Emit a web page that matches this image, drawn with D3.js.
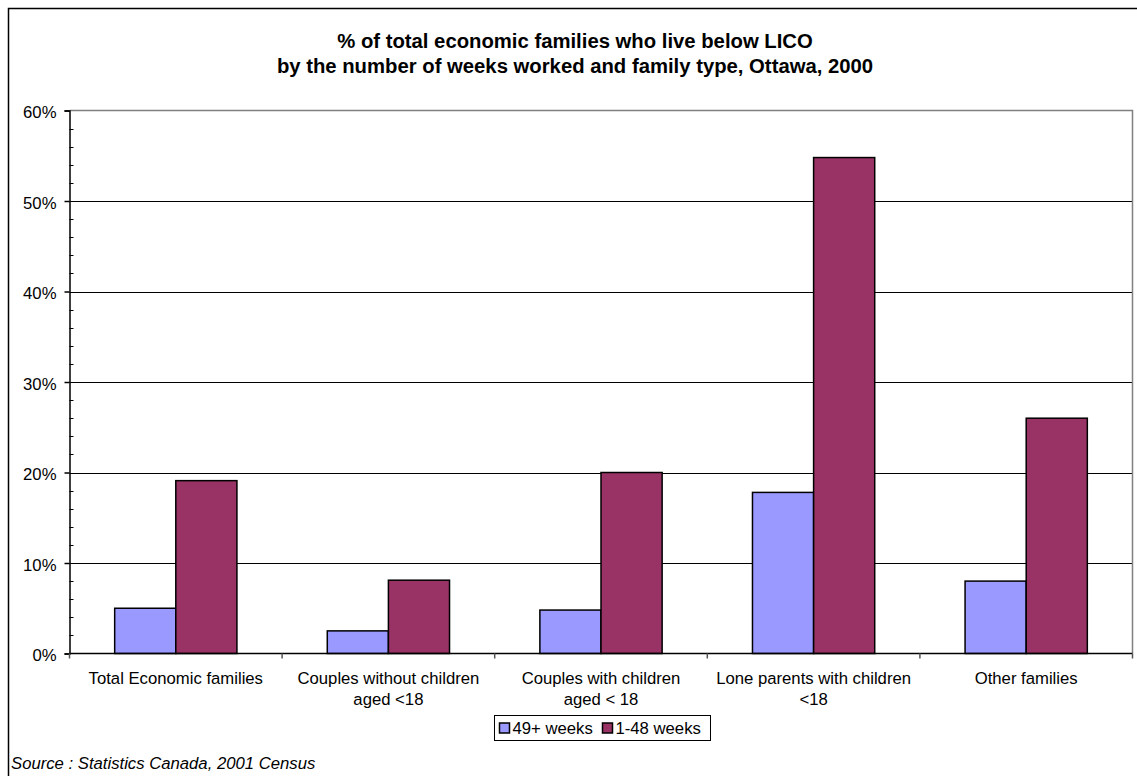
<!DOCTYPE html>
<html>
<head>
<meta charset="utf-8">
<script src="https://cdn.jsdelivr.net/npm/d3@7"></script>
<style>
  html, body { margin: 0; padding: 0; background: #fff; }
  svg { display: block; font-family: "Liberation Sans", Arial, sans-serif; }
</style>
</head>
<body>
<svg id="chart" width="1137" height="776"></svg>
<script>
// Family types (each label split into lines)
const categories = [
  ["Total Economic families"],
  ["Couples without children", "aged <18"],
  ["Couples with children", "aged < 18"],
  ["Lone parents with children", "<18"],
  ["Other families"]
];
const seriesNames = ["49+ weeks", "1-48 weeks"];
const weeks49plus = [5.0, 2.5, 4.8, 17.8, 8.0];
const weeks1to48 = [19.1, 8.1, 20.0, 54.8, 26.0];
const yTicks = [0, 10, 20, 30, 40, 50, 60];
const titleLines = [
  "% of total economic families who live below LICO",
  "by the number of weeks worked and family type, Ottawa, 2000"
];
const sourceText = "Source : Statistics Canada, 2001 Census";

const colors = ["#9999FF", "#993366"];
const labelSize = 16.7;
const svg = d3.select("#chart");

// Outer chart frame
svg.append("path")
  .attr("d", "M8.5,776 L8.5,8.5 L1140,8.5")
  .attr("fill", "none").attr("stroke", "#000").attr("stroke-width", 1.5);

const plot = { left: 69.5, right: 1132.5, top: 110.5, bottom: 653.5 };

const x0 = d3.scaleBand()
  .domain(d3.range(categories.length))
  .range([plot.left, plot.right])
  .paddingInner(0).paddingOuter(0);
const inner = 0.2125;
const x1 = d3.scaleBand()
  .domain([0, 1])
  .range([x0.bandwidth() * inner, x0.bandwidth() * (1 - inner)]);
const y = d3.scaleLinear().domain([0, 60]).range([plot.bottom, plot.top]);

// Title
const title = svg.append("text")
  .attr("x", 575).attr("y", 48)
  .attr("text-anchor", "middle")
  .attr("font-weight", "bold").attr("font-size", 20.3).attr("fill", "#000");
titleLines.forEach((t, i) => {
  title.append("tspan").attr("x", 575).attr("dy", i === 0 ? 0 : 25).text(t);
});

// Gridlines
svg.append("g").selectAll("line")
  .data(yTicks.filter(d => d > 0 && d < 60))
  .join("line")
  .attr("x1", plot.left).attr("x2", plot.right)
  .attr("y1", d => Math.round(y(d)) + 0.5).attr("y2", d => Math.round(y(d)) + 0.5)
  .attr("stroke", "#000").attr("stroke-width", 1);

// Plot area border (top and right)
svg.append("path")
  .attr("d", `M${plot.left},${plot.top} L${plot.right},${plot.top} L${plot.right},${plot.bottom}`)
  .attr("fill", "none").attr("stroke", "#808080").attr("stroke-width", 1.5);

// Bars
const groups = svg.append("g").selectAll("g")
  .data(categories.map((c, i) => i))
  .join("g")
  .attr("transform", i => `translate(${x0(i)},0)`);
groups.selectAll("rect")
  .data(i => [weeks49plus[i], weeks1to48[i]].map((v, s) => ({ v, s })))
  .join("rect")
  .attr("x", d => x1(d.s))
  .attr("width", x1.bandwidth())
  .attr("y", d => y(d.v))
  .attr("height", d => y(0) - y(d.v))
  .attr("fill", d => colors[d.s])
  .attr("stroke", "#000").attr("stroke-width", 1.5);

// Y axis with major ticks outside and minor ticks inside
const yAxis = d3.axisLeft(y).tickValues(yTicks).tickSize(5).tickPadding(8)
  .tickFormat(d => d + "%");
const gy = svg.append("g").attr("transform", `translate(${plot.left},0)`).call(yAxis);
gy.select(".domain").attr("stroke", "#000").attr("stroke-width", 1.5);
gy.selectAll(".tick line").attr("stroke", "#000").attr("stroke-width", 1.5);
gy.selectAll(".tick text").attr("font-size", labelSize).attr("fill", "#000")
  .attr("dy", "0.42em")
  .attr("font-family", "Liberation Sans, Arial, sans-serif");
const minor = d3.range(0, 61, 2).filter(d => d % 10 !== 0);
svg.append("g").selectAll("line").data(minor).join("line")
  .attr("x1", plot.left).attr("x2", plot.left + 4)
  .attr("y1", d => Math.round(y(d)) + 0.5).attr("y2", d => Math.round(y(d)) + 0.5)
  .attr("stroke", "#000").attr("stroke-width", 1);

// X axis: line at zero and ticks at category boundaries
svg.append("line")
  .attr("x1", plot.left).attr("x2", plot.right)
  .attr("y1", y(0)).attr("y2", y(0))
  .attr("stroke", "#000").attr("stroke-width", 1.5);
const bounds = d3.range(categories.length + 1).map(i => plot.left + i * x0.step());
svg.append("g").selectAll("line").data(bounds).join("line")
  .attr("x1", d => d).attr("x2", d => d)
  .attr("y1", y(0)).attr("y2", y(0) + 5)
  .attr("stroke", "#555").attr("stroke-width", 1.5);

// Category labels
const labels = svg.append("g").selectAll("text")
  .data(categories.map((c, i) => ({ c, i })))
  .join("text")
  .attr("text-anchor", "middle")
  .attr("font-size", labelSize).attr("fill", "#000")
  .attr("y", 684);
labels.each(function(d) {
  const cx = x0(d.i) + x0.bandwidth() / 2;
  d3.select(this).selectAll("tspan").data(d.c).join("tspan")
    .attr("x", cx).attr("dy", (t, k) => k === 0 ? 0 : 20.5).text(t => t);
});

// Legend
const legend = svg.append("g").attr("transform", "translate(494.5,715.5)");
legend.append("rect").attr("width", 216).attr("height", 25)
  .attr("fill", "#fff").attr("stroke", "#000").attr("stroke-width", 1);
const legendOffsets = [5, 108];
seriesNames.forEach((name, s) => {
  const g = legend.append("g").attr("transform", `translate(${legendOffsets[s]},0)`);
  g.append("rect").attr("x", 0).attr("y", 7.5).attr("width", 10).attr("height", 10)
    .attr("fill", colors[s]).attr("stroke", "#000").attr("stroke-width", 1.5);
  g.append("text").attr("x", 13).attr("y", 18.5)
    .attr("font-size", labelSize).attr("fill", "#000").text(name);
});

// Source note
svg.append("text")
  .attr("x", 11).attr("y", 769)
  .attr("font-size", labelSize).attr("font-style", "italic").attr("fill", "#000")
  .text(sourceText);
</script>
</body>
</html>
